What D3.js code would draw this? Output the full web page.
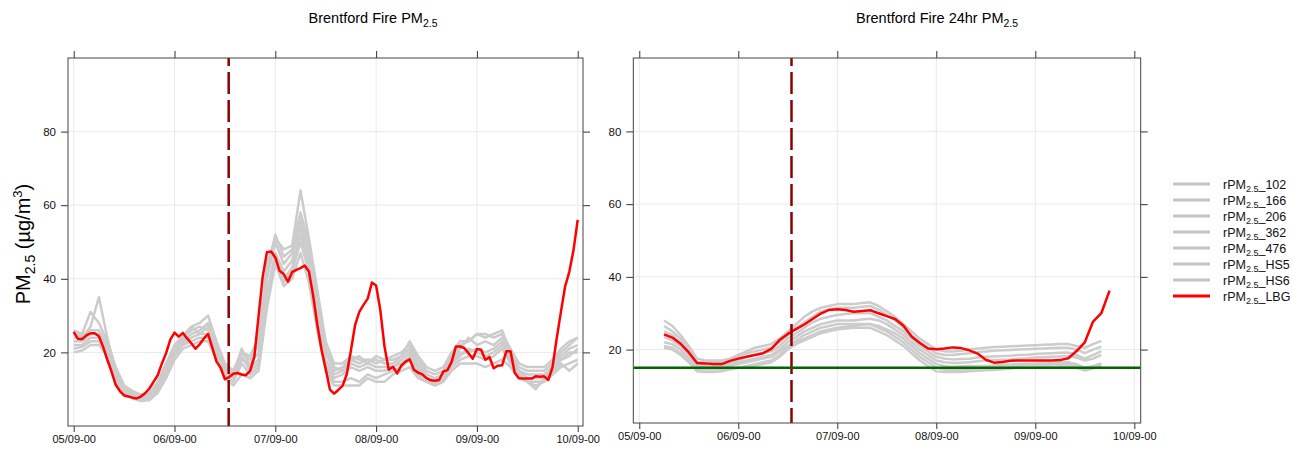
<!DOCTYPE html>
<html>
<head>
<meta charset="utf-8">
<script src="https://cdn.jsdelivr.net/npm/d3@7"></script>
<style>
  body { margin: 0; background: #fff; }
  text { font-family: "Liberation Sans", Arial, sans-serif; }
  .tick text { font-family: "Liberation Sans Narrow", "Liberation Sans", Arial, sans-serif; }
</style>
</head>
<body>
<div id="chart"></div>
<script>
// sites in legend order, last one is the highlighted site
const sites = ["102", "166", "206", "362", "476", "HS5", "HS6", "LBG"];

// hourly PM2.5 at LBG, 05/09 00:00 .. 10/09 00:00
const lbgHourly = [
  25.6,23.7,23.6,24.6,25.2,25.2,24.4,21.5,18.0,14.8,
  11.2,9.5,8.3,8.0,7.7,7.5,8.0,8.9,10.2,12.0,
  13.8,17.0,19.8,23.5,25.4,24.3,25.3,23.8,22.5,21.0,
  22.2,23.8,25.0,21.3,17.5,15.8,12.7,13.3,14.2,14.4,
  14.0,13.8,15.0,18.8,29.7,40.6,47.2,47.4,45.8,42.2,
  41.3,39.2,41.8,42.4,42.9,43.6,42.0,35.5,27.5,20.8,
  15.5,9.9,8.8,9.8,10.9,14.0,20.5,27.5,31.0,32.9,
  34.6,39.0,38.2,31.5,21.6,15.3,16.1,14.3,16.4,17.5,
  18.1,15.3,14.5,14.0,13.0,12.4,12.3,12.5,14.8,15.2,
  17.5,21.6,21.6,21.2,19.8,18.3,20.9,20.7,18.0,18.7,
  15.7,16.4,16.5,20.3,20.3,14.5,13.0,12.9,12.9,12.9,
  13.5,13.4,13.5,12.5,16.0,23.8,31.0,37.9,41.9,47.8,56.0
];

// other sites, every 2 hours, 05/09 00:00 .. 10/09 00:00
const site102 = [26,25,31,28,23,16,11,9.5,8.5,9,12,17,22,24.5,27,28,30,23,17,15,20,19,24,44,51,48,49,64,51,37,23,17,17,19,18,18,17,18,19,20,22,18,15,14,15,19,22,23,25,24,25,26,20,16,15,15,15,17,20,22,24];
const site166 = [24,24,27,35,24,15,10.5,9,8,8.5,11,16,21,24,26,27,26,20,15,13,18,17,20,40,50,44,47,56,48,34,20,15,16,18,17,18,18,17,17,19,21,17,14,13,14,18,21,24,22,23,22,24,19,15,14,14,14,16,19,21,22];
const site206 = [23,23,25,25,21,14,10,8.5,7.5,8,10.5,15,20,23,25,26,28,21,16,14,21,16,18,36,47,42,45,54,46,31,18,14,15,17,16,17,16,16,16,18,20,16,13,12.5,14,17,20,20,21,20,21,23,18,15,13,13,13,15,18,20,20];
const site362 = [21,21.5,23,23,20,13,9.5,8,7,7.5,9.5,13.5,19,22,23,24,24,19,14,12,17,14,16,33,45,39,42,50,42,28,16,12,12,13,12,14,13,14,15,16,18,14,12,11.5,12.5,16,18,19,19,18,19,21,17,14,12,11,12,14,17,15,17];
const site476 = [20,20.5,22,22,19,12.5,9,7.5,6.8,7,9,13,18,21,22,23,23,18,13,11,14,13,15,32,44,38,40,47,39,26,15,11,11,11,11,13,12,12,14,15,16,13,12,11,12,15,17,17,17,16,17,18,16,13,12,12,12,14,16,17,18];
const siteHS5 = [25,24.5,26,26,22,15,10.5,9,8.5,9,11.5,16,21,23.5,27,25,27,22,16,15,20,18,22,42,52,46,48,58,50,35,21,16,15,18,19,17,19,18,18,19,23,19,16,15,16,20,23,23,25,25,24,25,21,17,16,16,16,18,21,23,24];
const siteHS6 = [22,22,24,24,20,14,10,8.5,7.5,8,10,14,19.5,22.5,24,25,25,20,15,13,19,15,17,35,46,40,43,52,44,30,17,13,14,16,15,16,15,15,16,17,19,15,13,12,13,17,19,21,20,19,20,22,17,14,12,10,13,15,18,19,21];

// 24 hour rolling means, every 2 hours from 05/09 06:00 to 09/09 18:00
const r24_102 = [28,26.5,24,21,17.5,17,17,17,17.5,18.5,19.5,20.5,21,21.5,23,25,27,29,30.5,31.5,32,32.5,32.5,32.5,32.8,33,32,30.5,29,27,25,23,21.5,20,19.5,19.5,19.7,20,20.3,20.5,20.7,20.8,20.9,21,21.1,21.2,21.3,21.4,21.5,21.5,21,20.5,21.5,22.4,null];
const r24_166 = [26.5,25,23,20,16.5,16.5,16.5,16.5,17,18,19,19.5,20,20.5,22,24,26,27.5,29,30.5,31,31.5,31.5,31.5,31.8,32,31,29.5,28,26,24,22,20.5,19,18.5,18.5,18.8,19,19.3,19.5,19.7,19.8,19.9,20,20.1,20.2,20.3,20.4,20.5,20.5,20,19,20,20.8,null];
const r24_206 = [25,24,22,19,16,16,16,16,16.5,17,18,18.5,19,19.5,21,23,24.5,26,27.5,28.5,29,29.5,29.8,30,30,30,29,28,26.5,25,23,21,19.5,18,17.5,17.3,17.4,17.5,17.8,18,18.1,18.2,18.3,18.5,18.6,18.8,18.9,19,19.1,19.2,18.5,17.5,18.5,19.6,null];
const r24_362 = [23.5,22.5,21,18.5,15.5,15.5,15.5,15.5,16,16.5,17,17.5,18,18.5,20,22,23.5,25,26,27,27.5,28,28,28,28.3,28.5,28,27,25.5,24,22,20,18.5,17,16.5,16.3,16.4,16.5,16.8,17,17.1,17.2,17.3,17.5,17.6,17.8,17.9,18,18.1,18.2,17.8,17,17.5,18.5,null];
const r24_476 = [22,21.5,20,17.5,15,15,15,15,15.5,16,16.5,17,17.5,18,19.5,21,22.5,24,25,26,26.5,27,27,27,27,27,26.5,25.5,24.5,23,21,19,17.5,16,15.5,15.3,15.4,15.5,15.5,15.5,15.6,15.8,15.9,16,16.1,16.2,16.3,16.4,16.5,16.5,16,15,15.5,16.2,null];
const r24_HS5 = [21,20.5,19,17,14.5,14.5,14.5,14.5,14.8,15,15.5,16,16.5,17,18.5,20.5,22,23,24,25,25.5,26,26.3,26.5,26.8,27,26,25,23.5,22,20,18,16.5,15,14.5,14.3,14.3,14.5,14.8,15,15.1,15.2,15.4,15.5,15.6,15.7,15.8,15.9,16,16,15.5,14.5,15,15.8,null];
const r24_HS6 = [20.5,20,18.5,16.5,14,13.8,13.8,14,14.5,15,15.2,15.5,16,16.5,18,20,21.5,22.5,23.5,24.5,25,25.5,25.8,26,26,26,25,24,22.5,21,19,17,15.5,14,13.8,13.8,13.8,14,14.2,14.3,14.4,14.6,14.8,15,15.1,15.2,15.3,15.3,15.4,15.4,15,14.2,14.8,15.5,null];
const r24_LBG = [24.2,23.3,21.6,19.2,16.3,16.2,16.0,16.0,16.9,17.5,18.0,18.5,19.0,20.2,22.6,24.3,25.6,26.9,28.4,29.9,30.9,31.1,30.9,30.4,30.6,30.8,30.0,29.2,28.4,26.6,23.6,21.8,20.3,20.1,20.3,20.6,20.4,19.8,18.9,17.2,16.4,16.6,16.9,17.0,17.0,17.0,17.0,17.0,17.1,17.6,19.6,22.0,27.7,30.0,36.2];

const yTicks = [20, 40, 60, 80];
const fireHour = 36.9;      // fire start, hours after 05/09 00:00
const limit24 = 15;         // 24hr guideline

const t0 = Date.UTC(2000, 8, 5);
const toDate = h => new Date(t0 + h * 3600e3);
const hrsLbg = d3.range(0, 121);
const hrsSite = d3.range(0, 121, 2);
const hrs24 = d3.range(6, 115, 2);

const leftSeries = [site102, site166, site206, site362, site476, siteHS5, siteHS6, lbgHourly];
const rightSeries = [r24_102, r24_166, r24_206, r24_362, r24_476, r24_HS5, r24_HS6, r24_LBG];

const grey = "#cccccc", red = "#ff0000";
const fmt = d3.utcFormat("%d/%m-%H");

const svg = d3.select("#chart").append("svg")
    .attr("width", 1293)
    .attr("height", 450);

// writes "prefixPM2.5suffix" with a subscript
function pmText(sel, prefix, suffix, size) {
  sel.append("tspan").text(prefix + "PM");
  sel.append("tspan").attr("font-size", size * 0.72).attr("dy", size * 0.28).text("2.5");
  sel.append("tspan").attr("dy", -size * 0.28).text(suffix);
}

function panel(id, box, xDom, yDom, series, hours, titleX, titleTxt) {
  const x = d3.scaleUtc().domain(xDom.map(toDate)).range([box.x0, box.x1]);
  const y = d3.scaleLinear().domain(yDom).range([box.y1, box.y0]);
  const days = d3.utcDay.range(toDate(0), toDate(121));

  svg.append("clipPath").attr("id", id)
    .append("rect").attr("x", box.x0).attr("y", box.y0)
    .attr("width", box.x1 - box.x0).attr("height", box.y1 - box.y0);

  const g = svg.append("g");

  // grid
  g.append("g").selectAll("line").data(days).join("line")
      .attr("x1", d => x(d)).attr("x2", d => x(d))
      .attr("y1", box.y0).attr("y2", box.y1)
      .attr("stroke", "#e9e9e9");
  g.append("g").selectAll("line").data(yTicks).join("line")
      .attr("x1", box.x0).attr("x2", box.x1)
      .attr("y1", d => y(d)).attr("y2", d => y(d))
      .attr("stroke", "#e9e9e9");

  // axes on all four sides
  const ax = (a, tr) => g.append("g").attr("transform", tr).call(a)
      .call(s => s.select(".domain").remove())
      .call(s => s.selectAll(".tick line").attr("stroke", "#333"));
  ax(d3.axisBottom(x).tickValues(days).tickFormat(fmt).tickSize(6).tickPadding(3), `translate(0,${box.y1})`)
      .selectAll("text").attr("font-size", 11).attr("fill", "#111");
  ax(d3.axisTop(x).tickValues(days).tickFormat("").tickSize(7), `translate(0,${box.y0})`);
  ax(d3.axisLeft(y).tickValues(yTicks).tickSize(7).tickPadding(5), `translate(${box.x0},0)`)
      .selectAll("text").attr("font-size", 11.5).attr("fill", "#111");
  ax(d3.axisRight(y).tickValues(yTicks).tickFormat("").tickSize(7), `translate(${box.x1},0)`);

  const line = d3.line()
      .defined(d => d[1] != null)
      .x(d => x(toDate(d[0])))
      .y(d => y(d[1]));

  const lines = g.append("g").attr("clip-path", `url(#${id})`);

  series.forEach((vals, i) => {
    const hrs = hours[i];
    lines.append("path")
        .datum(vals.map((v, j) => [hrs[j], v]))
        .attr("fill", "none")
        .attr("stroke", i === series.length - 1 ? red : grey)
        .attr("stroke-width", 2.5)
        .attr("stroke-linejoin", "round")
        .attr("d", line);
  });

  // fire start
  lines.append("line")
      .attr("x1", x(toDate(fireHour))).attr("x2", x(toDate(fireHour)))
      .attr("y1", box.y0).attr("y2", box.y1)
      .attr("stroke", "#8b0000")
      .attr("stroke-width", 2.5)
      .attr("stroke-dasharray", "22,6")
      .attr("stroke-dashoffset", 14);

  g.append("rect")
      .attr("x", box.x0).attr("y", box.y0)
      .attr("width", box.x1 - box.x0).attr("height", box.y1 - box.y0)
      .attr("fill", "none").attr("stroke", "#444");

  svg.append("text")
      .attr("x", titleX).attr("y", 23)
      .attr("text-anchor", "middle")
      .attr("font-size", 14.5)
      .call(s => pmText(s, titleTxt, "", 14.5));

  return { x, y, lines };
}

const left = panel("clipL", { x0: 68, x1: 583, y0: 58, y1: 426 }, [-1.36, 121.26], [0, 100],
    leftSeries, [hrsSite, hrsSite, hrsSite, hrsSite, hrsSite, hrsSite, hrsSite, hrsLbg],
    373, "Brentford Fire ");

const right = panel("clipR", { x0: 633.3, x1: 1140.7, y0: 58, y1: 423 }, [-1.45, 121.55], [-0.2, 100.2],
    rightSeries, rightSeries.map(() => hrs24),
    937, "Brentford Fire 24hr ");

// 24hr limit line
right.lines.append("line")
    .attr("x1", 633.3).attr("x2", 1140.7)
    .attr("y1", right.y(limit24)).attr("y2", right.y(limit24))
    .attr("stroke", "#006400")
    .attr("stroke-width", 2.5);

// y axis title
const yl = svg.append("text")
    .attr("transform", "translate(30,244) rotate(-90)")
    .attr("text-anchor", "middle")
    .attr("font-size", 20);
yl.append("tspan").text("PM");
yl.append("tspan").attr("font-size", 14).attr("dy", 5).text("2.5");
yl.append("tspan").attr("dy", -5).text(" (µg/m");
yl.append("tspan").attr("font-size", 13).attr("dy", -8).text("3");
yl.append("tspan").attr("dy", 8).text(")");

// legend
const leg = svg.append("g").selectAll("g").data(sites).join("g")
    .attr("transform", (d, i) => `translate(1173,${184 + i * 16})`);
leg.append("line")
    .attr("x1", 0).attr("x2", 37)
    .attr("stroke", (d, i) => i === sites.length - 1 ? red : "#c4c4c4")
    .attr("stroke-width", 3);
leg.append("text")
    .attr("x", 50).attr("y", 4.5)
    .attr("font-size", 12.5)
    .attr("fill", "#111")
    .each(function (d) { pmText(d3.select(this), "r", "_" + d, 12.5); });
</script>
</body>
</html>
